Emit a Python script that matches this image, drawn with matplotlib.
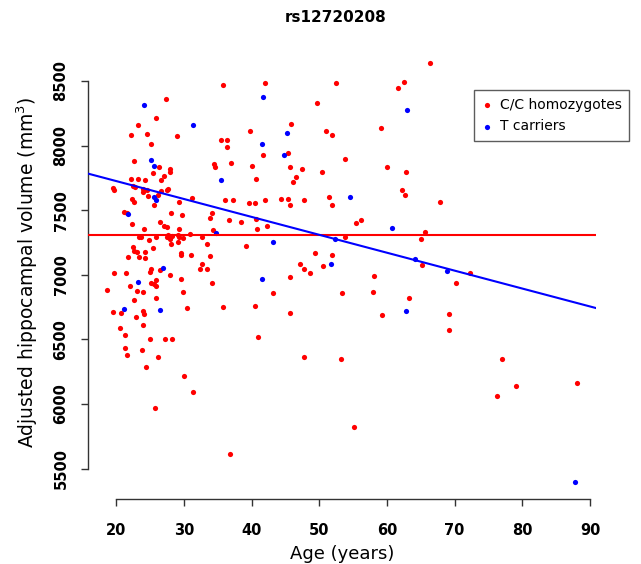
import matplotlib.pyplot as plt

plt.switch_backend('agg')

# ages (years) and adjusted hippocampal volumes (mm3)
cc_age = [35.8, 41.9, 49.6, 27.3, 25.9, 23.2, 22.1, 24.5, 29.0, 25.1,
          45.8, 39.7, 35.5, 36.4, 36.4, 41.7, 45.4, 22.6, 34.4, 34.6,
          36.9, 40.0, 45.6, 47.4, 26.3, 27.9, 27.9, 27.0, 25.4, 46.5,
          46.1, 40.6, 22.2, 23.2, 24.2, 26.6, 22.4, 22.8, 19.5, 19.7,
          23.9, 24.5, 24.0, 27.5, 27.7, 26.2, 26.6, 22.3, 22.6, 24.7,
          31.2, 29.2, 36.1, 37.3, 39.6, 40.5, 41.9, 44.4, 45.3, 45.6,
          47.8, 25.6, 21.2, 21.6, 28.1, 29.7, 34.1, 33.9, 36.6, 38.5,
          40.6, 42.3, 40.8, 22.3, 24.1, 26.4, 27.0, 27.5, 29.3, 34.3,
          23.3, 23.6, 24.8, 25.9, 27.5, 27.7, 28.0, 28.2, 29.1, 29.3,
          29.9, 30.9, 32.7, 33.4, 28.1, 29.1, 22.4, 22.6, 23.0, 21.8,
          23.3, 24.2, 24.2, 25.4, 29.6, 29.5, 31.0, 33.9, 39.2, 49.4,
          32.7, 32.4, 33.4, 47.1, 47.7, 48.6, 25.1, 25.0, 26.5, 28.0,
          19.6, 21.4, 22.0, 23.0, 23.9, 25.1, 25.8, 25.5, 25.8, 29.6,
          29.9, 34.2, 45.7, 43.2, 18.6, 22.6, 25.8, 30.4, 35.8, 40.5,
          45.6, 19.5, 20.7, 24.0, 24.1, 22.9, 23.9, 20.6, 21.3, 25.0,
          27.2, 28.2, 21.3, 21.6, 23.8, 26.2, 24.4, 30.0, 31.4, 25.7,
          41.0, 47.7, 66.4, 52.5, 61.6, 62.5, 59.1, 51.0, 51.9, 53.8,
          60.0, 62.8, 50.4, 51.4, 51.9, 62.2, 62.7, 67.8, 55.4, 56.1,
          53.8, 65.0, 65.6, 51.9, 50.5, 65.1, 58.1, 53.4, 57.9, 63.3,
          70.2, 72.3, 59.3, 69.2, 69.1, 53.2, 77.0, 76.2, 79.1, 88.1,
          55.1, 36.8]
cc_vol = [8465, 8480, 8330, 8360, 8215, 8155, 8085, 8090, 8075, 8010,
          8170, 8110, 8045, 8040, 7985, 7925, 7940, 7880, 7860, 7835,
          7865, 7840, 7830, 7815, 7830, 7815, 7795, 7765, 7790, 7760,
          7715, 7740, 7740, 7740, 7730, 7730, 7685, 7680, 7675, 7655,
          7665, 7655, 7640, 7655, 7665, 7620, 7645, 7590, 7565, 7610,
          7595, 7565, 7575, 7575, 7555, 7555, 7575, 7590, 7585, 7540,
          7580, 7540, 7485, 7475, 7475, 7460, 7475, 7440, 7425, 7405,
          7430, 7375, 7355, 7390, 7355, 7405, 7380, 7370, 7355, 7350,
          7290, 7295, 7270, 7290, 7295, 7305, 7280, 7300, 7310, 7295,
          7285, 7315, 7295, 7240, 7235, 7255, 7215, 7185, 7175, 7140,
          7140, 7175, 7130, 7210, 7170, 7155, 7155, 7145, 7220, 7165,
          7080, 7045, 7045, 7080, 7045, 7015, 7045, 7025, 7035, 7000,
          7015, 7010, 6915, 6875, 6870, 6940, 6960, 6930, 6910, 6965,
          6870, 6935, 6985, 6860, 6885, 6805, 6820, 6740, 6750, 6755,
          6705, 6710, 6705, 6720, 6695, 6675, 6615, 6585, 6535, 6500,
          6500, 6500, 6435, 6380, 6420, 6360, 6285, 6220, 6090, 5970,
          6520, 6365, 8640, 8485, 8445, 8495, 8135, 8115, 8080, 7895,
          7835, 7795, 7795, 7600, 7540, 7655, 7615, 7565, 7400, 7420,
          7295, 7280, 7330, 7155, 7065, 7075, 6990, 6860, 6870, 6820,
          6935, 7010, 6685, 6700, 6570, 6345, 6345, 6065, 6140, 6160,
          5820, 5615]

t_age = [24.1, 41.7, 31.4, 45.2, 41.6, 44.8, 25.1, 25.5, 35.5, 25.5,
         25.8, 21.8, 34.7, 43.2, 26.9, 23.2, 41.5, 21.2, 26.5, 63.0,
         54.6, 60.8, 52.3, 64.2, 51.7, 68.9, 62.8, 87.8]
t_vol = [8315, 8375, 8155, 8100, 8015, 7925, 7885, 7840, 7730, 7600,
         7580, 7470, 7325, 7255, 7050, 6945, 6965, 6735, 6730, 8275,
         7600, 7360, 7275, 7120, 7080, 7030, 6720, 5395]

mean_vol = 7305
fit_intercept = 8002
fit_slope = -13.86

fig = plt.figure(figsize=(6.41, 5.64), dpi=100)
ax = fig.add_axes([88 / 641, 65 / 564, 508 / 641, 453 / 564])

ax.scatter(cc_age, cc_vol, s=14, color='#ff0000', linewidths=0,
           label='C/C homozygotes', zorder=2)
ax.scatter(t_age, t_vol, s=14, color='#0000ff', linewidths=0,
           label='T carriers', zorder=2)
ax.axhline(mean_vol, color='#ff0000', lw=1.5, zorder=3)
ax.axline((0, fit_intercept), slope=fit_slope, color='#0000ff', lw=1.5, zorder=3)

ax.set_xlim(15.82, 90.88)
ax.set_ylim(5265, 8770)
ax.set_xticks(range(20, 91, 10))
ax.set_yticks(range(5500, 8501, 500))

for side in ['top', 'right']:
    ax.spines[side].set_visible(False)
ax.spines['left'].set_bounds(5500, 8500)
ax.spines['bottom'].set_bounds(20, 90)
for side in ['left', 'bottom']:
    ax.spines[side].set_color('#333333')
    ax.spines[side].set_linewidth(1.0)

ax.tick_params(axis='both', direction='out', length=5, width=1.0,
               color='#333333', labelsize=10.5)
ax.tick_params(axis='x', pad=12)
ax.tick_params(axis='y', pad=9, labelrotation=90)
for lab in ax.get_xticklabels() + ax.get_yticklabels():
    lab.set_fontweight('bold')
for lab in ax.get_yticklabels():
    lab.set_va('center')

ax.set_xlabel('Age (years)', fontsize=13, labelpad=5)
ax.set_ylabel('Adjusted hippocampal volume (mm$^3$)', fontsize=13.5, labelpad=10)

fig.text(336 / 641, 1 - 18 / 564, 'rs12720208', ha='center', va='center',
         fontsize=11, fontweight='bold')

leg = ax.legend(loc='upper left', bbox_to_anchor=(474 / 641, 1 - 90 / 564),
                bbox_transform=fig.transFigure, fontsize=10, frameon=True,
                fancybox=False, handletextpad=0.5, borderpad=0.55,
                labelspacing=0.55, handlelength=0.8, borderaxespad=0,
                markerscale=1.0)
leg.get_frame().set_edgecolor('#333333')
leg.get_frame().set_linewidth(1.0)

fig.savefig('out.png', dpi=100)
